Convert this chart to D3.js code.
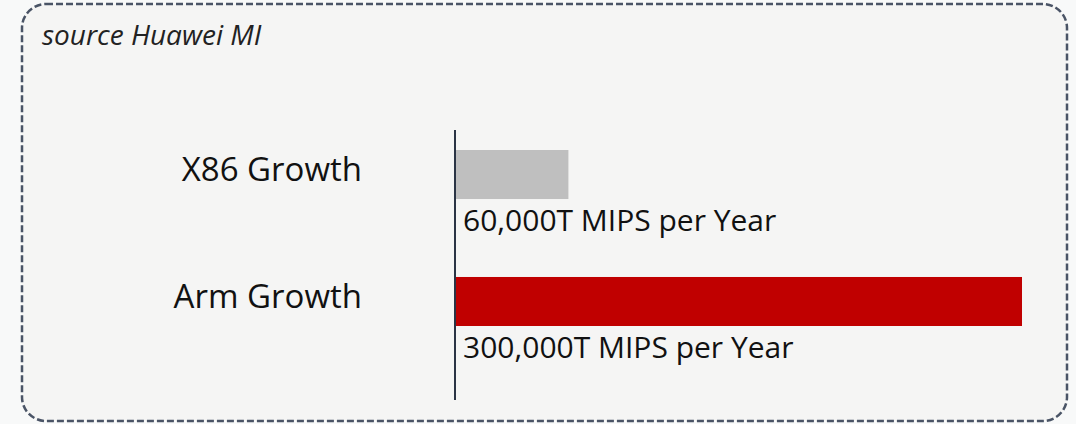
<!DOCTYPE html>
<html>
<head>
<meta charset="utf-8">
<script src="https://cdn.jsdelivr.net/npm/d3@7"></script>
<style>
  body { margin: 0; background: #f8f9f9; }
  svg { display: block; }
</style>
</head>
<body>
<div id="chart"></div>
<script>
// chart data
var categories = ["X86 Growth", "Arm Growth"];
var values = [60000, 300000];
var valueLabels = ["60,000T MIPS per Year", "300,000T MIPS per Year"];
var barColors = ["#bfbfbf", "#c00000"];
var sourceText = "source Huawei MI";

var W = 1076, H = 424;

var svg = d3.select("#chart")
    .append("svg")
    .attr("width", W)
    .attr("height", H);

// dashed rounded frame
svg.append("rect")
    .attr("x", 22)
    .attr("y", 4)
    .attr("width", 1045)
    .attr("height", 417)
    .attr("rx", 24)
    .attr("ry", 24)
    .attr("fill", "#f5f5f4")
    .attr("stroke", "#4a5466")
    .attr("stroke-width", 2.5)
    .attr("stroke-dasharray", "7,3");

svg.append("text")
    .attr("x", 42)
    .attr("y", 45)
    .style("font-family", "'Open Sans', 'Noto Sans', sans-serif")
    .style("font-style", "italic")
    .style("font-size", "28px")
    .style("fill", "#222")
    .text(sourceText);

// scales
var x = d3.scaleLinear()
    .domain([0, 300000])
    .range([455, 1022]);

var y = d3.scaleBand()
    .domain(categories)
    .range([150, 326])
    .paddingInner(0.614);

// bars
svg.selectAll(".bar")
    .data(categories)
    .enter().append("rect")
    .attr("class", "bar")
    .attr("x", x(0))
    .attr("y", function(d) { return y(d); })
    .attr("width", function(d, i) { return x(values[i]) - x(0); })
    .attr("height", y.bandwidth())
    .attr("fill", function(d, i) { return barColors[i]; });

// axis line
svg.append("line")
    .attr("x1", x(0))
    .attr("x2", x(0))
    .attr("y1", 130)
    .attr("y2", 400)
    .attr("stroke", "#2b3445")
    .attr("stroke-width", 2);

// category labels
svg.selectAll(".cat-label")
    .data(categories)
    .enter().append("text")
    .attr("class", "cat-label")
    .attr("x", 362)
    .attr("y", function(d) { return y(d) + y.bandwidth() / 2 + 6.5; })
    .attr("text-anchor", "end")
    .style("font-family", "'Open Sans', 'Noto Sans', sans-serif")
    .style("font-size", "33px")
    .style("fill", "#111")
    .text(function(d) { return d; });

// value labels
svg.selectAll(".val-label")
    .data(categories)
    .enter().append("text")
    .attr("class", "val-label")
    .attr("x", 463)
    .attr("y", function(d) { return y(d) + y.bandwidth() + 32; })
    .style("font-family", "'Open Sans', 'Noto Sans', sans-serif")
    .style("font-size", "30px")
    .style("fill", "#111")
    .text(function(d, i) { return valueLabels[i]; });
</script>
</body>
</html>
